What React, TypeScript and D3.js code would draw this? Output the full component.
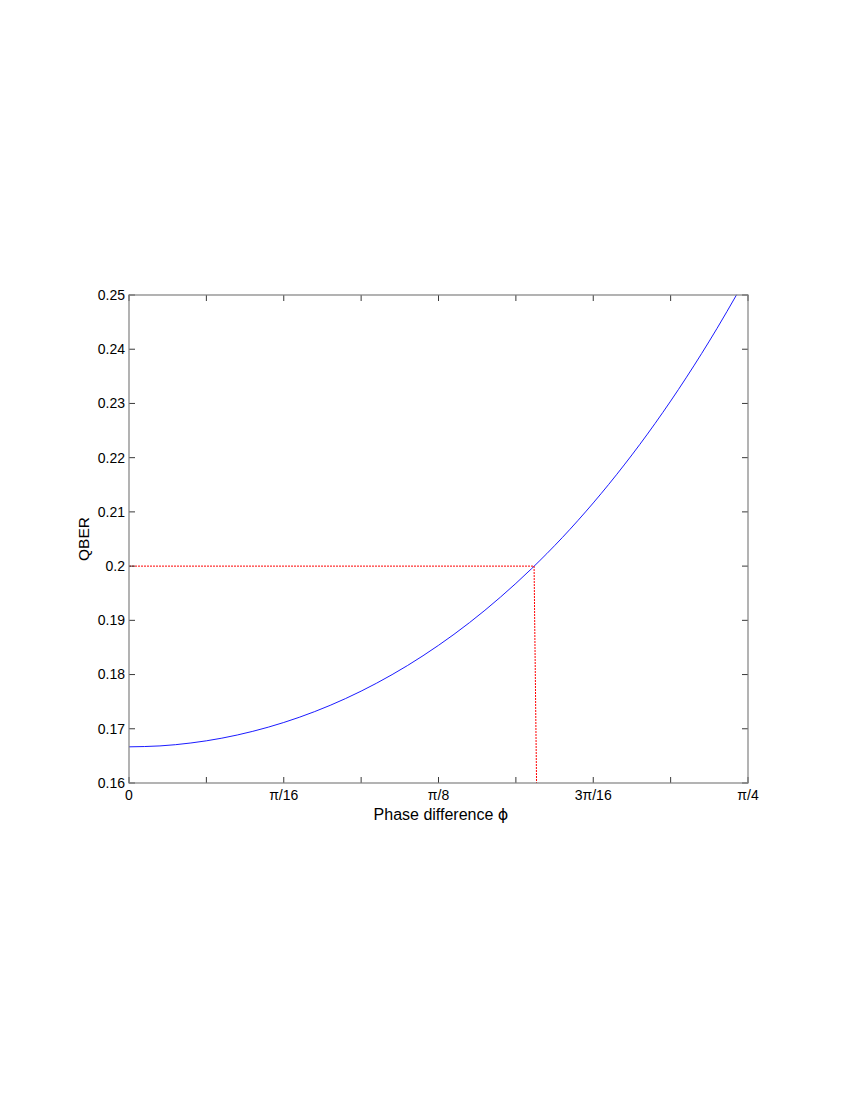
import React from "react";
import * as d3 from "d3";

// phase difference in multiples of pi, QBER read (and smoothed) from the picture
const curvePhiOverPi = [0, 0.0125, 0.025, 0.0375, 0.05, 0.0625, 0.075, 0.0875, 0.1, 0.1125, 0.125, 0.1375, 0.15, 0.1625, 0.175, 0.1875, 0.2, 0.2125, 0.225, 0.2375, 0.2454];
const curveQber = [0.16667, 0.16684, 0.16738, 0.16827, 0.16953, 0.17116, 0.17317, 0.17558, 0.17841, 0.18167, 0.18539, 0.18957, 0.19427, 0.19949, 0.20526, 0.21165, 0.21866, 0.22633, 0.23472, 0.24385, 0.25005];

const markerPhiOverPi = [0, 0.1636, 0.1646];
const markerQber = [0.2, 0.2, 0.16];

const xTickValues = [0, 0.03125, 0.0625, 0.09375, 0.125, 0.15625, 0.1875, 0.21875, 0.25];
const xTickLabels = ["0", "", "π/16", "", "π/8", "", "3π/16", "", "π/4"];
const yTickValues = [0.16, 0.17, 0.18, 0.19, 0.2, 0.21, 0.22, 0.23, 0.24, 0.25];
const yTickLabels = ["0.16", "0.17", "0.18", "0.19", "0.2", "0.21", "0.22", "0.23", "0.24", "0.25"];

export default function App() {
  const left = 129, right = 748, top = 295, bottom = 783;
  const x = d3.scaleLinear().domain([0, 0.25]).range([left, right]);
  const y = d3.scaleLinear().domain([0.16, 0.25]).range([bottom, top]);
  const line = d3.line<number>().x((_, i) => x(curvePhiOverPi[i])).y((d) => y(d)).curve(d3.curveMonotoneX);
  const redLine = d3.line<number>().x((_, i) => x(markerPhiOverPi[i])).y((d) => y(d));
  const font = "'Liberation Sans', Arial, Helvetica, sans-serif";
  const tl = 6;
  return (
    <svg width={850} height={1100} style={{ position: "absolute", left: 0, top: 0, background: "#fff" }}>
      <rect x={0} y={0} width={850} height={1100} fill="#fff" />
      <path d={line(curveQber) || ""} fill="none" stroke="#0000ff" strokeWidth={0.9} />
      <path d={redLine(markerQber) || ""} fill="none" stroke="#ff0000" strokeWidth={1} strokeDasharray="2,1" />
      {xTickValues.map((v, i) => (
        <g key={"x" + i}>
          <line x1={x(v)} x2={x(v)} y1={bottom} y2={bottom - tl} stroke="#222" strokeWidth={0.9} />
          <line x1={x(v)} x2={x(v)} y1={top} y2={top + tl} stroke="#222" strokeWidth={0.9} />
          {xTickLabels[i] && (
            <text x={x(v)} y={800} textAnchor="middle" fontFamily={font} fontSize={14} fill="#000">
              {xTickLabels[i]}
            </text>
          )}
        </g>
      ))}
      {yTickValues.map((v, i) => (
        <g key={"y" + i}>
          <line x1={left} x2={left + tl} y1={y(v)} y2={y(v)} stroke="#222" strokeWidth={0.9} />
          <line x1={right} x2={right - tl} y1={y(v)} y2={y(v)} stroke="#222" strokeWidth={0.9} />
          <text x={125} y={y(v)} dy="0.35em" textAnchor="end" fontFamily={font} fontSize={14} fill="#000">
            {yTickLabels[i]}
          </text>
        </g>
      ))}
      <rect x={left} y={top} width={right - left} height={bottom - top} fill="none" stroke="#808080" strokeWidth={1.2} />
      <text x={441} y={820} textAnchor="middle" fontFamily={font} fontSize={16} fill="#000">
        Phase difference <tspan fontFamily="'DejaVu Sans', sans-serif" fontSize={16}>ϕ</tspan>
      </text>
      <text transform={`translate(89, ${(top + bottom) / 2}) rotate(-90)`} textAnchor="middle" fontFamily={font} fontSize={15.5} fill="#000">
        QBER
      </text>
    </svg>
  );
}
